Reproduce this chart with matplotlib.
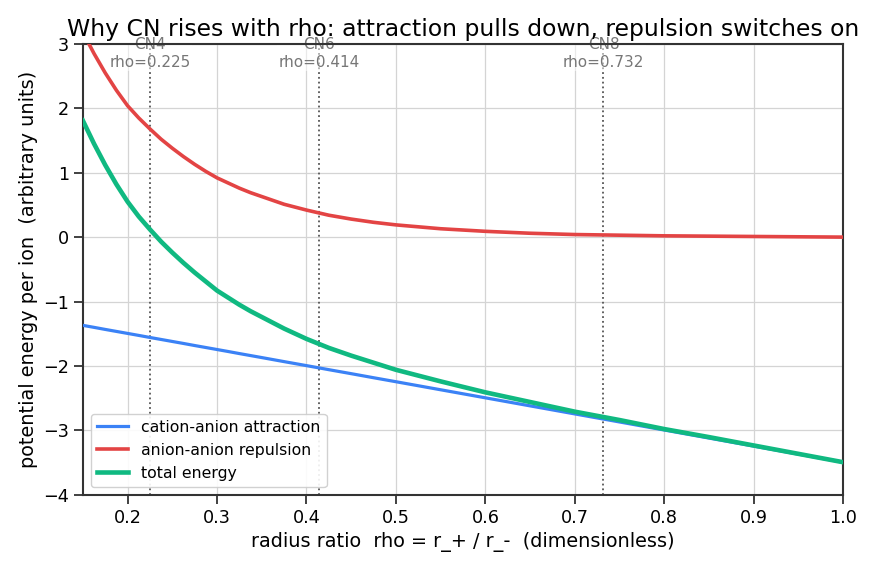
import numpy as np
import matplotlib
matplotlib.use("Agg")
import matplotlib.pyplot as plt

# radius ratio samples and energies
rho = [0.15, 0.1625, 0.175, 0.1875, 0.2, 0.2125, 0.225, 0.2375, 0.25, 0.2625, 0.275,
       0.2875, 0.3, 0.3125, 0.325, 0.3375, 0.35, 0.375, 0.4, 0.425, 0.45, 0.475, 0.5,
       0.55, 0.6, 0.65, 0.7, 0.75, 0.8, 0.85, 0.9, 0.95, 1.0]
attraction = [-1.370, -1.401, -1.433, -1.464, -1.495, -1.526, -1.558, -1.589, -1.620,
              -1.651, -1.683, -1.714, -1.745, -1.776, -1.808, -1.839, -1.870, -1.933,
              -1.995, -2.058, -2.120, -2.183, -2.245, -2.370, -2.495, -2.620, -2.745,
              -2.870, -2.995, -3.120, -3.245, -3.370, -3.495]
repulsion = [3.18, 2.85, 2.55, 2.28, 2.04, 1.85, 1.68, 1.52, 1.38, 1.25, 1.13, 1.02,
             0.92, 0.84, 0.76, 0.69, 0.63, 0.51, 0.42, 0.34, 0.28, 0.23, 0.19, 0.13,
             0.09, 0.06, 0.04, 0.03, 0.02, 0.015, 0.01, 0.005, 0.0]
total = [1.81, 1.45, 1.12, 0.82, 0.55, 0.32, 0.12, -0.07, -0.24, -0.40, -0.55, -0.69,
         -0.83, -0.94, -1.05, -1.15, -1.24, -1.42, -1.58, -1.72, -1.84, -1.95, -2.06,
         -2.24, -2.41, -2.56, -2.71, -2.84, -2.98, -3.105, -3.235, -3.365, -3.495]

cn_labels = ["CN4", "CN6", "CN8"]
cn_rho = [0.225, 0.414, 0.732]

plt.rcParams['font.family'] = ['DejaVu Sans']
fig, ax = plt.subplots(figsize=(8.72, 5.7), dpi=100)
fig.subplots_adjust(left=0.095, right=0.967, top=0.923, bottom=0.132)

ax.grid(True, color='#d4d4d4', linewidth=0.9)
ax.set_axisbelow(True)

for lab, r in zip(cn_labels, cn_rho):
    ax.axvline(r, color='#555555', linestyle=':', linewidth=1.3, zorder=1)
    ax.text(r, 3.1, f"{lab}\nrho={r:.3f}", ha='center', va='top', fontsize=11,
            color='#777777', clip_on=False, zorder=2,
            bbox=dict(facecolor='white', edgecolor='none', alpha=0.5, pad=1))

ax.plot(rho, attraction, color='#3b82f6', linewidth=2.3, label='cation-anion attraction', zorder=3)
ax.plot(rho, repulsion, color='#e34444', linewidth=2.6, label='anion-anion repulsion', zorder=3)
ax.plot(rho, total, color='#10b981', linewidth=3.3, label='total energy', zorder=4)

ax.set_xlim(0.15, 1.0)
ax.set_ylim(-4, 3)
ax.set_xticks(np.arange(0.2, 1.01, 0.1))
ax.set_yticks(np.arange(-4, 3.1, 1))
ax.tick_params(labelsize=12.7, direction='out', length=6.5, width=1.3, color='#333333')
for s in ax.spines.values():
    s.set_color('#333333')
    s.set_linewidth(1.5)

ax.set_xlabel('radius ratio  rho = r_+ / r_-  (dimensionless)', fontsize=13.9)
ax.set_ylabel('potential energy per ion  (arbitrary units)', fontsize=13.9)
ax.set_title('Why CN rises with rho: attraction pulls down, repulsion switches on', fontsize=16.9)
ax.legend(loc='lower left', fontsize=11.3, framealpha=0.9, edgecolor='#cccccc')

plt.savefig('out.png', dpi=100)
